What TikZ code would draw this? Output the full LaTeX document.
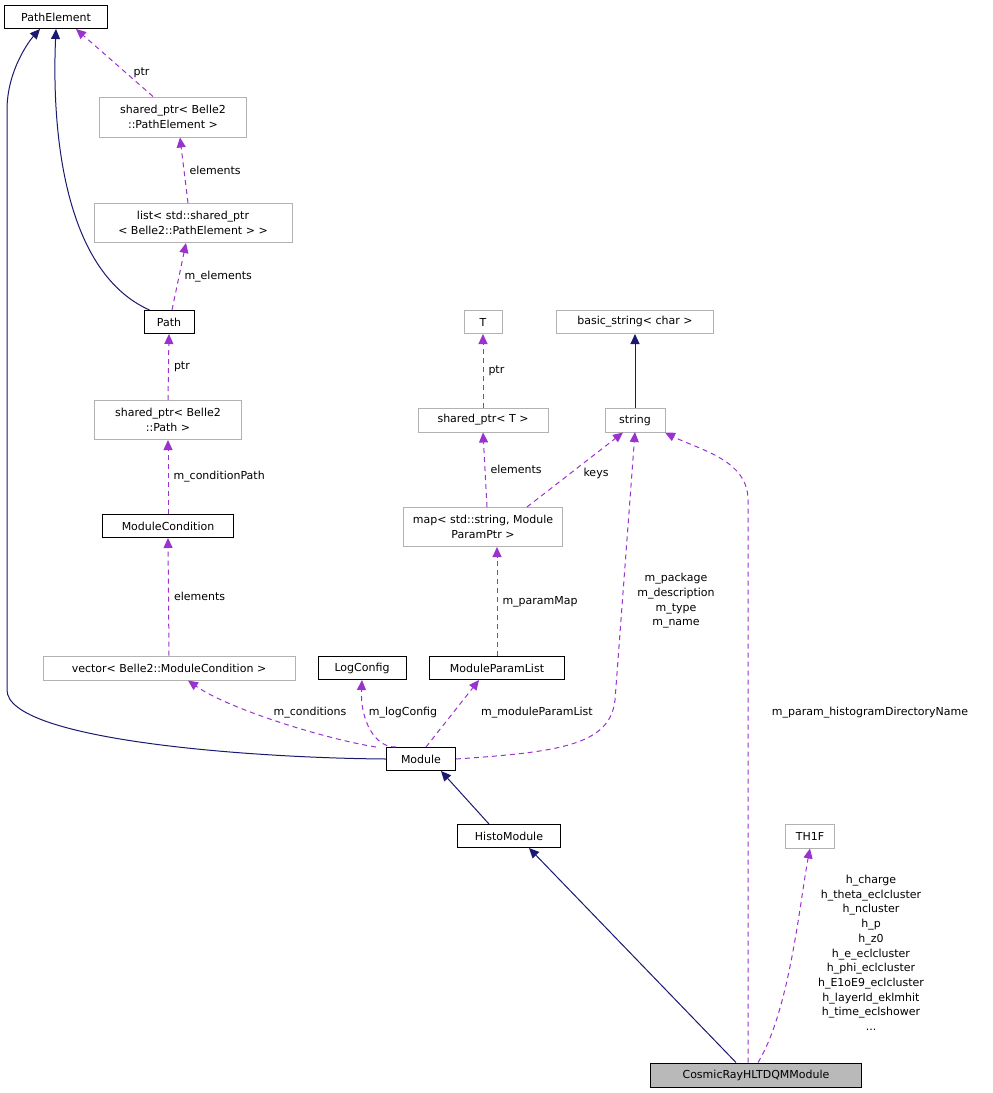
\documentclass[tikz,border=0pt]{standalone}
\usepackage{fontspec}
\setmainfont{DejaVu Sans}
\usetikzlibrary{arrows.meta}
\definecolor{navy}{HTML}{191970}
\definecolor{purp}{HTML}{9A32CD}
\begin{document}
\begin{tikzpicture}[x=1pt,y=-1pt,
  every node/.style={font=\fontsize{11}{14.7}\selectfont, inner sep=0pt},
  bx/.style={draw=black, line width=1pt, fill=white, minimum height=23pt, align=center},
  gbx/.style={draw=gray!60, line width=1pt, fill=white, align=center},
  inh/.style={draw=navy, line width=1pt, -{Triangle[length=10pt,width=9pt]}},
  use/.style={draw=purp, line width=1pt, dash pattern=on 5pt off 4pt, -{Triangle[length=10pt,width=9pt]}},
  lbl/.style={inner sep=1pt, align=center}]
\useasboundingbox (0,0) rectangle (993,1093);
\node[bx, minimum width=103pt] (pe) at (56,17) {PathElement};
\node[gbx, minimum width=147pt, minimum height=40pt] (spe) at (173,117) {shared\_ptr< Belle2\\::PathElement >};
\node[gbx, minimum width=198pt, minimum height=39pt] (lst) at (193,223) {list< std::shared\_ptr\\< Belle2::PathElement > >};
\node[bx, minimum width=50pt] (path) at (169,322) {Path};
\node[gbx, minimum width=147pt, minimum height=39pt] (spp) at (168,420) {shared\_ptr< Belle2\\::Path >};
\node[bx, minimum width=131pt] (mc) at (168,526) {ModuleCondition};
\node[gbx, minimum width=252pt, minimum height=24pt] (vec) at (169,668) {vector< Belle2::ModuleCondition >};
\node[bx, minimum width=88pt] (lc) at (362,668) {LogConfig};
\node[bx, minimum width=135pt] (mpl) at (497,668) {ModuleParamList};
\node[gbx, minimum width=38pt, minimum height=23pt] (T) at (483,322) {T};
\node[gbx, minimum width=157pt, minimum height=23pt] (bs) at (635,322) {basic\_string< char >};
\node[gbx, minimum width=130pt, minimum height=24pt] (spt) at (483,420) {shared\_ptr< T >};
\node[gbx, minimum width=60pt, minimum height=24pt] (str) at (635,420) {string};
\node[gbx, minimum width=159pt, minimum height=39pt] (map) at (483,527) {map< std::string, Module\\ParamPtr >};
\node[bx, minimum width=69pt] (mod) at (421,759) {Module};
\node[bx, minimum width=103pt] (hm) at (509,836) {HistoModule};
\node[gbx, minimum width=49pt, minimum height=24pt] (th) at (810,836) {TH1F};
\node[bx, fill=gray!55, minimum width=211pt, minimum height=24pt] (cr) at (756,1075) {CosmicRayHLTDQMModule};

% inheritance
\draw[inh] ([xshift=6pt]path.north west) .. controls (60,270) and (52,120) .. (pe.south);
\draw[inh] (mod.west) .. controls (250,758) and (7,740) .. (7,690) -- (7,110) .. controls (7,70) and (30,40) .. ([xshift=-16pt]pe.south);
\draw[inh] (str.north) -- (bs.south);
\draw[inh] ([xshift=-20pt]hm.north) -- ([xshift=20pt]mod.south);
\draw[inh] ([xshift=-20pt]cr.north) -- ([xshift=20pt]hm.south);

% usage
\draw[use] ([xshift=-20pt]spe.north) -- ([xshift=20pt]pe.south) node[lbl,pos=0.35,right=6pt] {ptr};
\draw[use] ([xshift=-5pt]lst.north) -- ([xshift=7pt]spe.south) node[lbl,pos=0.5,right=4pt] {elements};
\draw[use] ([xshift=3pt]path.north) -- ([xshift=-7pt]lst.south) node[lbl,pos=0.5,right=4pt] {m\_elements};
\draw[use] (spp.north) -- (path.south) node[lbl,pos=0.5,right=4pt] {ptr};
\draw[use] (mc.north) -- (spp.south) node[lbl,pos=0.5,right=4pt] {m\_conditionPath};
\draw[use] (vec.north) -- (mc.south) node[lbl,pos=0.5,right=4pt] {elements};
\draw[use] ([xshift=-10pt]mod.north west) .. controls (330,740) and (230,710) .. ([xshift=19pt]vec.south);
\node[lbl] (l1) at (310,713) {m\_conditions};
\draw[use] ([xshift=-25pt]mod.north) .. controls (375,748) and (360,720) .. (lc.south);
\node[lbl] (l2) at (403,713) {m\_logConfig};
\draw[use] ([xshift=5pt]mod.north) -- ([xshift=-18pt]mpl.south);
\node[lbl] (l3) at (537,713) {m\_moduleParamList};
\draw[use] (mod.east) .. controls (560,752) and (610,745) .. (615,700) -- (635,432);
\node[lbl] (l4) at (676,601) {m\_package\\m\_description\\m\_type\\m\_name};
\draw[use] (mpl.north) -- ([xshift=14pt]map.south) node[lbl,pos=0.5,right=4pt] {m\_paramMap};
\draw[use] ([xshift=4pt]map.north) -- (spt.south) node[lbl,pos=0.5,right=4pt] {elements};
\draw[use] ([xshift=44pt]map.north) -- ([xshift=-12pt]str.south);
\node[lbl] (l5) at (596,473) {keys};
\draw[use] (spt.north) -- (T.south) node[lbl,pos=0.5,right=4pt] {ptr};
\draw[use] ([xshift=-8pt]cr.north) -- (748,500) .. controls (748,460) and (700,450) .. ([xshift=30pt]str.south);
\node[lbl] (lh) at (870,713) {m\_param\_histogramDirectoryName};
\draw[use] ([xshift=2pt]cr.north) .. controls (790,1010) and (800,900) .. (th.south);
\node[lbl, anchor=north] (lt) at (871,874) {h\_charge\\h\_theta\_eclcluster\\h\_ncluster\\h\_p\\h\_z0\\h\_e\_eclcluster\\h\_phi\_eclcluster\\h\_E1oE9\_eclcluster\\h\_layerId\_eklmhit\\h\_time\_eclshower\\...};
\end{tikzpicture}
\end{document}
